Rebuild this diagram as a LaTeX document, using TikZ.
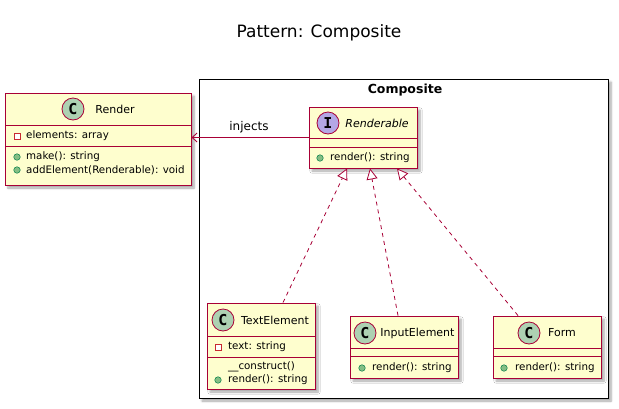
\documentclass[tikz,border=0pt]{standalone}
\usepackage{fontspec}
\setmainfont{DejaVu Sans}
\newfontfamily\monob{DejaVu Sans Mono}
\usetikzlibrary{arrows.meta,shadows.blur}
\definecolor{umlfill}{HTML}{FEFECE}
\definecolor{umlline}{HTML}{A80036}
\definecolor{cfill}{HTML}{ADD1B2}
\definecolor{ifill}{HTML}{B4A7E5}
\definecolor{privred}{HTML}{C82930}
\definecolor{pubfill}{HTML}{84BE84}
\definecolor{publine}{HTML}{038048}
\tikzset{
  umlbox/.style={draw=umlline, fill=umlfill, line width=0.9pt, inner sep=0pt,
    blur shadow={shadow xshift=3pt, shadow yshift=-3pt, shadow blur steps=6, shadow opacity=35}},
  pkgbox/.style={draw=black, fill=white, line width=1pt, inner sep=0pt,
    blur shadow={shadow xshift=3pt, shadow yshift=-3pt, shadow blur steps=6, shadow opacity=35}},
  divline/.style={draw=umlline, line width=0.9pt},
  cname/.style={font=\fontsize{11}{13}\selectfont, inner sep=0pt},
  member/.style={font=\fontsize{10.3}{12}\selectfont, anchor=west, inner sep=0pt},
  cicon/.style={circle, draw=umlline, fill=cfill, line width=0.8pt, minimum size=22pt, inner sep=0pt, font=\monob\bfseries\fontsize{15}{15}\selectfont},
  iicon/.style={circle, draw=umlline, fill=ifill, line width=0.8pt, minimum size=22pt, inner sep=0pt, font=\monob\bfseries\fontsize{15}{15}\selectfont},
  priv/.style={draw=privred, line width=0.8pt, fill=white, minimum size=6pt, inner sep=0pt},
  pub/.style={circle, draw=publine, fill=pubfill, line width=0.5pt, minimum size=6.5pt, inner sep=0pt},
  realize/.style={draw=umlline, line width=0.8pt, dash pattern=on 4pt off 4pt,
    -{Triangle[open, length=11pt, width=11pt, fill=white]}},
  inject/.style={draw=umlline, line width=0.9pt, -{Straight Barb[length=5pt, width=9pt]}},
}
\begin{document}
\begin{tikzpicture}[x=1pt,y=-1pt]
\useasboundingbox (0,0) rectangle (619,408);
% title
\node[font=\fontsize{17}{20}\selectfont, inner sep=0pt] (title) at (319,33) {Pattern: Composite};

% package
\node[pkgbox, minimum width=409pt, minimum height=319pt] (pkg) at (403.5,238.5) {};
\node[font=\bfseries\fontsize{12.5}{14}\selectfont, inner sep=0pt] (pkgname) at (405,90) {Composite};

% Render
\node[umlbox, minimum width=186pt, minimum height=92pt] (render) at (98,139) {};
\draw[divline] (5,125) -- (191,125);
\draw[divline] (5,146) -- (191,146);
\node[cicon] (renderC) at (73,109) {C};
\node[cname] (renderN) at (115,109) {Render};
\node[priv] (rp1) at (17,136) {};
\node[member] (rm1) at (26,136) {elements: array};
\node[pub] (rp2) at (17,157) {};
\node[member] (rm2) at (26,157) {make(): string};
\node[pub] (rp3) at (17,170) {};
\node[member] (rm3) at (26,170) {addElement(Renderable): void};

% Renderable
\node[umlbox, minimum width=108pt, minimum height=61pt] (renderable) at (363,137.5) {};
\draw[divline] (309,138) -- (417,138);
\draw[divline] (309,147) -- (417,147);
\node[iicon] (renderableI) at (328,123) {I};
\node[cname, font=\itshape\fontsize{11}{13}\selectfont] (renderableN) at (377,123) {Renderable};
\node[pub] (ap1) at (320,158) {};
\node[member] (am1) at (330,158) {render(): string};

% TextElement
\node[umlbox, minimum width=108pt, minimum height=86pt] (textel) at (261,346) {};
\draw[divline] (207,336) -- (315,336);
\draw[divline] (207,357) -- (315,357);
\node[cicon] (textelC) at (223,320) {C};
\node[cname] (textelN) at (275,320) {TextElement};
\node[priv] (tp1) at (218,347) {};
\node[member] (tm1) at (228,347) {text: string};
\node[member] (tm2) at (228,367) {\_\_construct()};
\node[pub] (tp3) at (218,380) {};
\node[member] (tm3) at (228,380) {render(): string};

% InputElement
\node[umlbox, minimum width=108pt, minimum height=62pt] (inputel) at (404,347) {};
\draw[divline] (350,348) -- (458,348);
\draw[divline] (350,356) -- (458,356);
\node[cicon] (inputelC) at (365,333) {C};
\node[cname] (inputelN) at (417.5,333) {InputElement};
\node[pub] (ip1) at (362,368) {};
\node[member] (im1) at (372,368) {render(): string};

% Form
\node[umlbox, minimum width=108pt, minimum height=62pt] (form) at (547,347) {};
\draw[divline] (493,348) -- (601,348);
\draw[divline] (493,356) -- (601,356);
\node[cicon] (formC) at (529,333) {C};
\node[cname] (formN) at (562,333) {Form};
\node[pub] (fp1) at (504,368) {};
\node[member] (fm1) at (515,368) {render(): string};

% connectors
\draw[inject] (renderable.west) -- (renderable.west -| render.east);
\node[font=\fontsize{12}{14}\selectfont, inner sep=0pt] (injlabel) at (249,127) {injects};
\draw[realize] ([xshift=22pt]textel.north) -- ([xshift=-16pt]renderable.south);
\draw[realize] ([xshift=-6pt]inputel.north) -- ([xshift=7pt]renderable.south);
\draw[realize] ([xshift=-29pt]form.north) -- ([xshift=34pt]renderable.south);
\end{tikzpicture}
\end{document}
